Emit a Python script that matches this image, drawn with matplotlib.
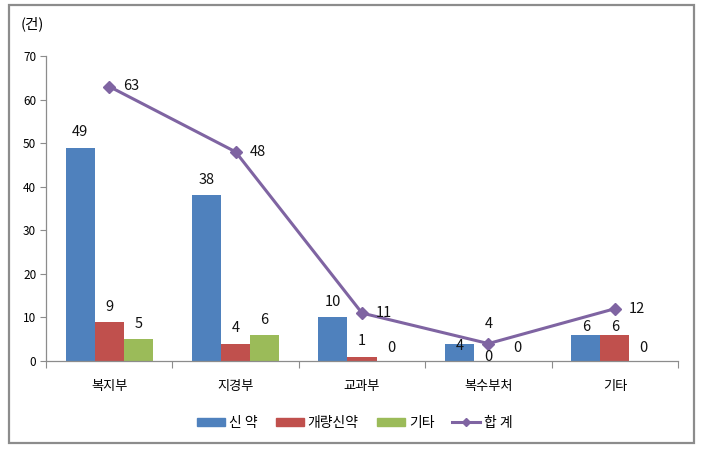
import matplotlib
matplotlib.use("Agg")
import matplotlib.pyplot as plt
from matplotlib.patches import Rectangle
from matplotlib.lines import Line2D
import numpy as np

plt.rcParams['font.family'] = ['Noto Sans CJK KR', 'DejaVu Sans']

categories = ['복지부', '지경부', '교과부', '복수부처', '기타']
new_drug = [49, 38, 10, 4, 6]
improved = [9, 4, 1, 0, 6]
other = [5, 6, 0, 0, 0]
total = [63, 48, 11, 4, 12]
series_names = ['신 약', '개량신약', '기타', '합 계']
y_ticks = [0, 10, 20, 30, 40, 50, 60, 70]

c_blue = '#4F81BD'
c_red = '#C0504D'
c_green = '#9BBB59'
c_purple = '#7F64A2'

W, H = 711, 455
fig = plt.figure(figsize=(W / 100, H / 100), dpi=100)

# outer frame
fig.add_artist(Rectangle((9 / W, 1 - 443 / H), (694 - 9) / W, (443 - 5) / H,
                         transform=fig.transFigure, fill=False,
                         edgecolor='#8C8C8C', linewidth=1.6))

ax_l, ax_r = 46 / W, 678 / W
ax_b, ax_t = 1 - 361 / H, 1 - 56 / H
ax = fig.add_axes([ax_l, ax_b, ax_r - ax_l, ax_t - ax_b])

x = np.arange(len(categories))
bw = 0.23
ax.bar(x - bw, new_drug, bw, color=c_blue, zorder=2)
ax.bar(x, improved, bw, color=c_red, zorder=2)
ax.bar(x + bw, other, bw, color=c_green, zorder=2)
ax.plot(x, total, color=c_purple, linewidth=2.2, marker='D', markersize=6,
        zorder=3)

ax.set_xlim(-0.5, len(categories) - 0.5)
ax.set_ylim(0, 70)
ax.set_yticks(y_ticks)
ax.set_xticks(x)
ax.set_xticklabels(categories, fontsize=9.5)
ax.set_xticks(np.arange(len(categories) + 1) - 0.5, minor=True)
ax.tick_params(axis='x', which='major', length=0, pad=14)
ax.tick_params(axis='x', which='minor', length=5, color='#8C8C8C', width=0.8)
ax.tick_params(axis='y', length=4, color='#8C8C8C', width=0.8, labelsize=8.5,
               pad=3)
for s in ['top', 'right']:
    ax.spines[s].set_visible(False)
for s in ['left', 'bottom']:
    ax.spines[s].set_color('#8C8C8C')
    ax.spines[s].set_linewidth(0.9)

# data labels (offsets in points)
lab_kw = dict(fontsize=10.5, ha='center', va='center', color='#111111',
              textcoords='offset points')
special = {(0, 3): -2, (1, 3): -12, (1, 4): 6, (0, 4): 6}
for si, (vals, dx) in enumerate([(new_drug, -bw), (improved, 0), (other, bw)]):
    for i, v in enumerate(vals):
        off = special.get((si, i), 11)
        if v == 0:
            off = 9 if si == 2 else 3
        ax.annotate(str(v), (x[i] + dx, v), xytext=(0, off), **lab_kw)
for i, v in enumerate(total):
    if i == 3:
        ax.annotate(str(v), (x[i], v), xytext=(0, 14), **lab_kw)
    else:
        ax.annotate(str(v), (x[i], v), xytext=(16, 0), **lab_kw)

fig.text(32 / W, 1 - 24 / H, '(건)', fontsize=10.5, ha='center', va='center')

handles = [Rectangle((0, 0), 1, 1, color=c_blue),
           Rectangle((0, 0), 1, 1, color=c_red),
           Rectangle((0, 0), 1, 1, color=c_green),
           Line2D([], [], color=c_purple, linewidth=2.2, marker='D',
                  markersize=4.5)]
fig.legend(handles, series_names, loc='center', ncol=4,
           bbox_to_anchor=(355 / W, 1 - 423 / H), frameon=False,
           fontsize=10, handlelength=2.0, handleheight=0.55,
           handletextpad=0.3, columnspacing=1.3)

fig.savefig('out.png', dpi=100)
